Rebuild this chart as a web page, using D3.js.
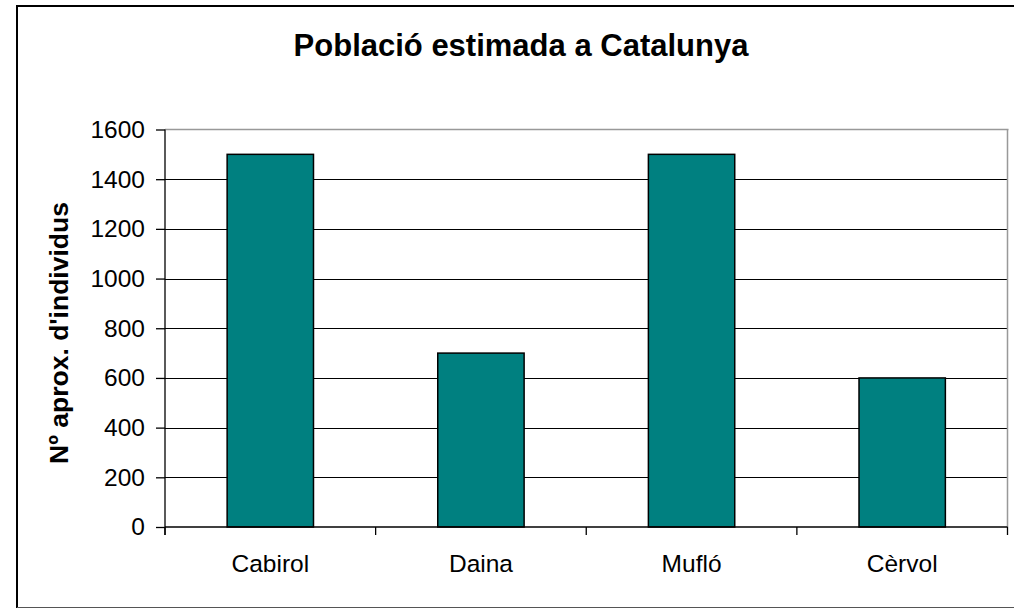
<!DOCTYPE html>
<html><head><meta charset="utf-8">
<script src="https://cdn.jsdelivr.net/npm/d3@7"></script>
<style>body{margin:0;background:#fff}svg{display:block}text{font-family:"Liberation Sans",Arial,sans-serif}</style>
</head><body>
<svg id="c" width="1014" height="609"></svg>
<script>
const categories = ["Cabirol", "Daina", "Mufló", "Cèrvol"];
const values = [1500, 700, 1500, 600];
const yTicks = [0, 200, 400, 600, 800, 1000, 1200, 1400, 1600];
const title = "Població estimada a Catalunya";
const yTitle = "Nº aprox. d'individus";

const svg = d3.select("#c");
const L = 165, R = 1007.5, T = 129.5, B = 527;

// outer frame
svg.append("line").attr("x1",17).attr("x2",1014).attr("y1",6).attr("y2",6).attr("stroke","#000").attr("stroke-width",2);
svg.append("line").attr("x1",17).attr("x2",17).attr("y1",5).attr("y2",608).attr("stroke","#000").attr("stroke-width",2);
svg.append("line").attr("x1",17).attr("x2",1014).attr("y1",607.5).attr("y2",607.5).attr("stroke","#555").attr("stroke-width",1);

const x = d3.scaleBand().domain(categories).range([L, R]).paddingInner(0.59).paddingOuter(0.295);
const xb = d3.scaleBand().domain(categories).range([L, R]);
const y = d3.scaleLinear().domain([0, 1600]).range([B, T]);

// gridlines
svg.append("g").selectAll("line").data(yTicks.filter(d => d > 0 && d < 1600)).join("line")
  .attr("x1", L).attr("x2", R).attr("y1", d => Math.round(y(d)) + 0.5).attr("y2", d => Math.round(y(d)) + 0.5)
  .attr("stroke", "#000").attr("stroke-width", 1);

// plot border (top/right gray)
svg.append("line").attr("x1",L).attr("x2",R+1).attr("y1",T).attr("y2",T).attr("stroke","#999").attr("stroke-width",1.5);
svg.append("line").attr("x1",R).attr("x2",R).attr("y1",T).attr("y2",B).attr("stroke","#999").attr("stroke-width",1.5);

// bars
svg.append("g").selectAll("rect").data(values).join("rect")
  .attr("x", (d,i) => x(categories[i])).attr("width", x.bandwidth())
  .attr("y", d => y(d)).attr("height", d => B - y(d))
  .attr("fill", "#008080").attr("stroke", "#000").attr("stroke-width", 1.5);

// y axis
const yAxis = d3.axisLeft(y).tickValues(yTicks).tickSize(9).tickPadding(11).tickFormat(d3.format("d"));
const gy = svg.append("g").attr("transform", `translate(${L},0)`).call(yAxis);
gy.select(".domain").attr("stroke", "#000").attr("stroke-width", 1.3).attr("d", `M-0,${B+8}V${T}`);
gy.selectAll(".tick line").attr("stroke", "#000").attr("stroke-width", 1.3);
gy.selectAll(".tick text").attr("font-size", 24.5).attr("fill", "#000").attr("font-family", "Liberation Sans, Arial, sans-serif");

// x axis
const xAxis = d3.axisBottom(xb).tickSize(0).tickPadding(28);
const gx = svg.append("g").attr("transform", `translate(0,${B})`).call(xAxis);
gx.select(".domain").attr("stroke", "#000").attr("stroke-width", 1.5).attr("d", `M${L},0H${R}`);
gx.selectAll(".tick text").attr("font-size", 24.5).attr("fill", "#000").attr("font-family", "Liberation Sans, Arial, sans-serif");
// category boundary ticks
svg.append("g").selectAll("line").data(categories.concat(["end"])).join("line")
  .attr("x1", (d,i) => i < categories.length ? xb(d) : R).attr("x2", (d,i) => i < categories.length ? xb(d) : R)
  .attr("y1", B).attr("y2", B + 8).attr("stroke", "#000").attr("stroke-width", 1.3);

// title
svg.append("text").attr("x", 521).attr("y", 56).attr("text-anchor", "middle")
  .attr("font-size", 31).attr("font-weight", "bold").text(title);

// y title
svg.append("text").attr("transform", `translate(68,333) rotate(-90)`).attr("text-anchor", "middle")
  .attr("font-size", 26.5).attr("font-weight", "bold").text(yTitle);
</script>
</body></html>
